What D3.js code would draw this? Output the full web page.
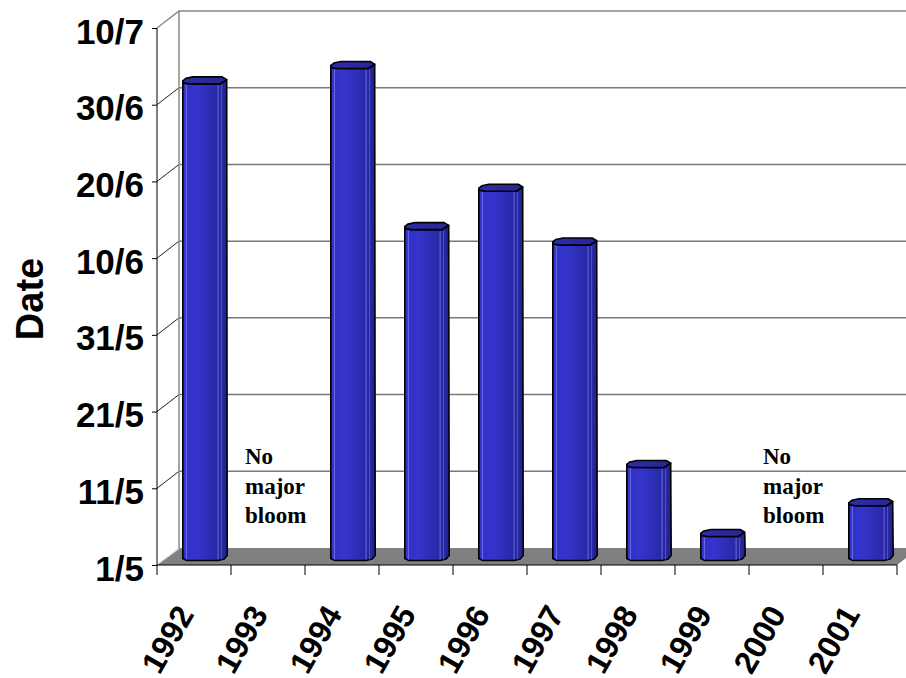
<!DOCTYPE html>
<html>
<head>
<meta charset="utf-8">
<script src="https://cdn.jsdelivr.net/npm/d3@7"></script>
<style>
  html, body { margin: 0; padding: 0; background: #ffffff; }
  svg { display: block; }
  .tick-label { font-family: "Liberation Sans", Arial, sans-serif; font-weight: bold; fill: #000; }
  .note { font-family: "Liberation Serif", "Times New Roman", serif; font-weight: bold; font-size: 23px; fill: #000; }
</style>
</head>
<body>
<svg id="chart" width="906" height="678"></svg>
<script>
// Start date of the main bloom, per year (day/month); null = no major bloom
const years = ["1992", "1993", "1994", "1995", "1996", "1997", "1998", "1999", "2000", "2001"];
const bloomStart = ["2/7", null, "4/7", "13/6", "18/6", "11/6", "13/5", "4/5", null, "8/5"];
const yTickLabels = ["1/5", "11/5", "21/5", "31/5", "10/6", "20/6", "30/6", "10/7"];
const noteYears = ["1993", "2000"];
const noteLines = ["No", "major", "bloom"];
const yTitle = "Date";

const parseDM = s => d3.timeParse("%d/%m/%Y")(s + "/2001");

const svg = d3.select("#chart");

// Plot frame (front plane) and 3-D depth offset
const pLeft = 157, pRight = 897, pTop = 28, pBottom = 565;
const dx = 22, dy = -17;

const y = d3.scaleTime()
  .domain([parseDM(yTickLabels[0]), parseDM(yTickLabels[yTickLabels.length - 1])])
  .range([pBottom, pTop]);

const x = d3.scaleBand().domain(years).range([pLeft, pRight]).padding(0);
const bw = x.bandwidth() * 0.6;
const yTicks = yTickLabels.map(parseDM);

// ---- walls and floor ----
const walls = svg.append("g");
walls.append("rect")
  .attr("x", pLeft + dx).attr("y", pTop + dy)
  .attr("width", pRight - pLeft).attr("height", pBottom - pTop)
  .attr("fill", "#ffffff");
walls.append("path")
  .attr("d", `M${pLeft},${pBottom} L${pRight},${pBottom} L${pRight + dx},${pBottom + dy} L${pLeft + dx},${pBottom + dy} Z`)
  .attr("fill", "#808080");
walls.append("line")
  .attr("x1", pLeft + 1).attr("y1", pBottom - 1).attr("x2", pLeft + dx).attr("y2", pBottom + dy + 1)
  .attr("stroke", "#d8d8d8").attr("stroke-width", 1);

// gridlines on the back wall
walls.selectAll(".grid").data(yTicks.slice(1, -1)).join("line")
  .attr("class", "grid")
  .attr("x1", pLeft + dx).attr("x2", pRight + dx)
  .attr("y1", d => y(d) + dy).attr("y2", d => y(d) + dy)
  .attr("stroke", "#7a7a7a").attr("stroke-width", 1.5);
// gridlines across the side wall
walls.selectAll(".sgrid").data(yTicks.slice(1, -1)).join("line")
  .attr("class", "sgrid")
  .attr("x1", pLeft).attr("x2", pLeft + dx)
  .attr("y1", d => y(d)).attr("y2", d => y(d) + dy)
  .attr("stroke", "#222").attr("stroke-width", 1);
// wall borders
walls.append("path")
  .attr("d", `M${pLeft},${pTop} L${pLeft + dx},${pTop + dy} L${pRight + dx},${pTop + dy}`)
  .attr("fill", "none").attr("stroke", "#8a8a8a").attr("stroke-width", 1.5);
walls.append("line")
  .attr("x1", pLeft + dx).attr("x2", pLeft + dx)
  .attr("y1", pTop + dy).attr("y2", pBottom + dy)
  .attr("stroke", "#8a8a8a").attr("stroke-width", 1.5);

// ---- bars (prism-like cylinders at mid depth) ----
const defs = svg.append("defs");
const grad = defs.append("linearGradient").attr("id", "barBody")
  .attr("x1", "0%").attr("x2", "100%").attr("y1", "0%").attr("y2", "0%");
grad.append("stop").attr("offset", "0%").attr("stop-color", "#3030c4");
grad.append("stop").attr("offset", "30%").attr("stop-color", "#3535ce");
grad.append("stop").attr("offset", "100%").attr("stop-color", "#222294");

const capGrad = defs.append("linearGradient").attr("id", "barCap")
  .attr("x1", "0%").attr("x2", "100%").attr("y1", "0%").attr("y2", "0%");
capGrad.append("stop").attr("offset", "0%").attr("stop-color", "#2c2ca8");
capGrad.append("stop").attr("offset", "100%").attr("stop-color", "#262696");

const barData = years.map((yr, i) => ({ year: yr, date: bloomStart[i] ? parseDM(bloomStart[i]) : null }))
  .filter(d => d.date);

const k = bw / 44;
const P = (cx, px, py) => `${cx + px * k},${py}`;

const bars = svg.append("g").selectAll("g.bar").data(barData).join("g").attr("class", "bar");

bars.each(function (d) {
  const g = d3.select(this);
  const cx = x(d.year) + x.bandwidth() / 2 + dx / 2;
  const t = y(d.date) + dy / 2;
  const b = y(yTicks[0]) + dy / 2;

  const body = [
    P(cx, -22, t), P(cx, -22, b + 2), P(cx, -18, b + 4), P(cx, 13, b + 4),
    P(cx, 19, b + 2.5), P(cx, 22, b - 1), P(cx, 21.5, t - 1.3), P(cx, 15, t + 3),
    P(cx, -15, t + 3), P(cx, -21, t + 2)
  ];
  g.append("polygon").attr("points", body.join(" "))
    .attr("fill", "url(#barBody)").attr("stroke", "#000").attr("stroke-width", 1.6)
    .attr("stroke-linejoin", "round");

  // light vertical facet edges
  [[-18.5, "#7070ea"], [13, "#6a6adc"], [16.5, "#5656c4"]].forEach(([ox, c]) => {
    g.append("line")
      .attr("x1", cx + ox * k).attr("x2", cx + ox * k)
      .attr("y1", t + 4).attr("y2", b + 3)
      .attr("stroke", c).attr("stroke-width", 1);
  });

  const cap = [
    P(cx, -22, t), P(cx, -19, t - 2.5), P(cx, -12, t - 4), P(cx, 17, t - 4),
    P(cx, 21.5, t - 1.3), P(cx, 15, t + 3), P(cx, -15, t + 3), P(cx, -21, t + 2)
  ];
  g.append("polygon").attr("points", cap.join(" "))
    .attr("fill", "url(#barCap)").attr("stroke", "#000").attr("stroke-width", 1.6)
    .attr("stroke-linejoin", "round");
});

// ---- axes ----
const yAxis = d3.axisLeft(y).tickValues(yTicks)
  .tickFormat((d, i) => yTickLabels[i]).tickSize(5).tickPadding(8);
const gy = svg.append("g").attr("transform", `translate(${pLeft},0)`).call(yAxis);
gy.select(".domain").attr("stroke", "#000").attr("d", `M0,${pTop}V${pBottom}`);
gy.selectAll(".tick line").attr("stroke", "#000");
gy.selectAll(".tick text")
  .attr("class", "tick-label")
  .attr("font-size", 35)
  .attr("dy", 15)
  .style("font-family", "'Liberation Sans', Arial, sans-serif")
  .style("font-weight", "bold");

// category axis: ticks on category boundaries, labels rotated
const gx = svg.append("g");
gx.append("line").attr("x1", pLeft).attr("x2", pRight).attr("y1", pBottom).attr("y2", pBottom)
  .attr("stroke", "#000").attr("stroke-width", 1);
const bounds = years.map(yr => x(yr)).concat([x(years[years.length - 1]) + x.bandwidth()]);
gx.selectAll(".xt").data(bounds).join("line")
  .attr("class", "xt")
  .attr("x1", d => d).attr("x2", d => d)
  .attr("y1", pBottom).attr("y2", pBottom + 10)
  .attr("stroke", "#000");
gx.selectAll(".xl").data(years).join("text")
  .attr("class", "tick-label")
  .attr("font-size", 32)
  .attr("text-anchor", "end")
  .attr("transform", d => `translate(${x(d) + x.bandwidth() / 2 + 1},${pBottom + 49}) rotate(-60)`)
  .text(d => d);

// axis title
svg.append("text")
  .attr("class", "tick-label")
  .attr("font-size", 38)
  .attr("text-anchor", "middle")
  .attr("transform", `translate(43,299) rotate(-90)`)
  .text(yTitle);

// "No major bloom" notes for years without a bar
const notes = svg.append("g").selectAll("text").data(noteYears).join("text")
  .attr("class", "note")
  .attr("x", d => x(d) + x.bandwidth() / 2 + dx / 2 - 34)
  .attr("y", pBottom - 101);
notes.selectAll("tspan").data(noteLines).join("tspan")
  .attr("x", function () { return d3.select(this.parentNode).attr("x"); })
  .attr("dy", (d, i) => i === 0 ? 0 : 29.5)
  .text(d => d);
</script>
</body>
</html>
